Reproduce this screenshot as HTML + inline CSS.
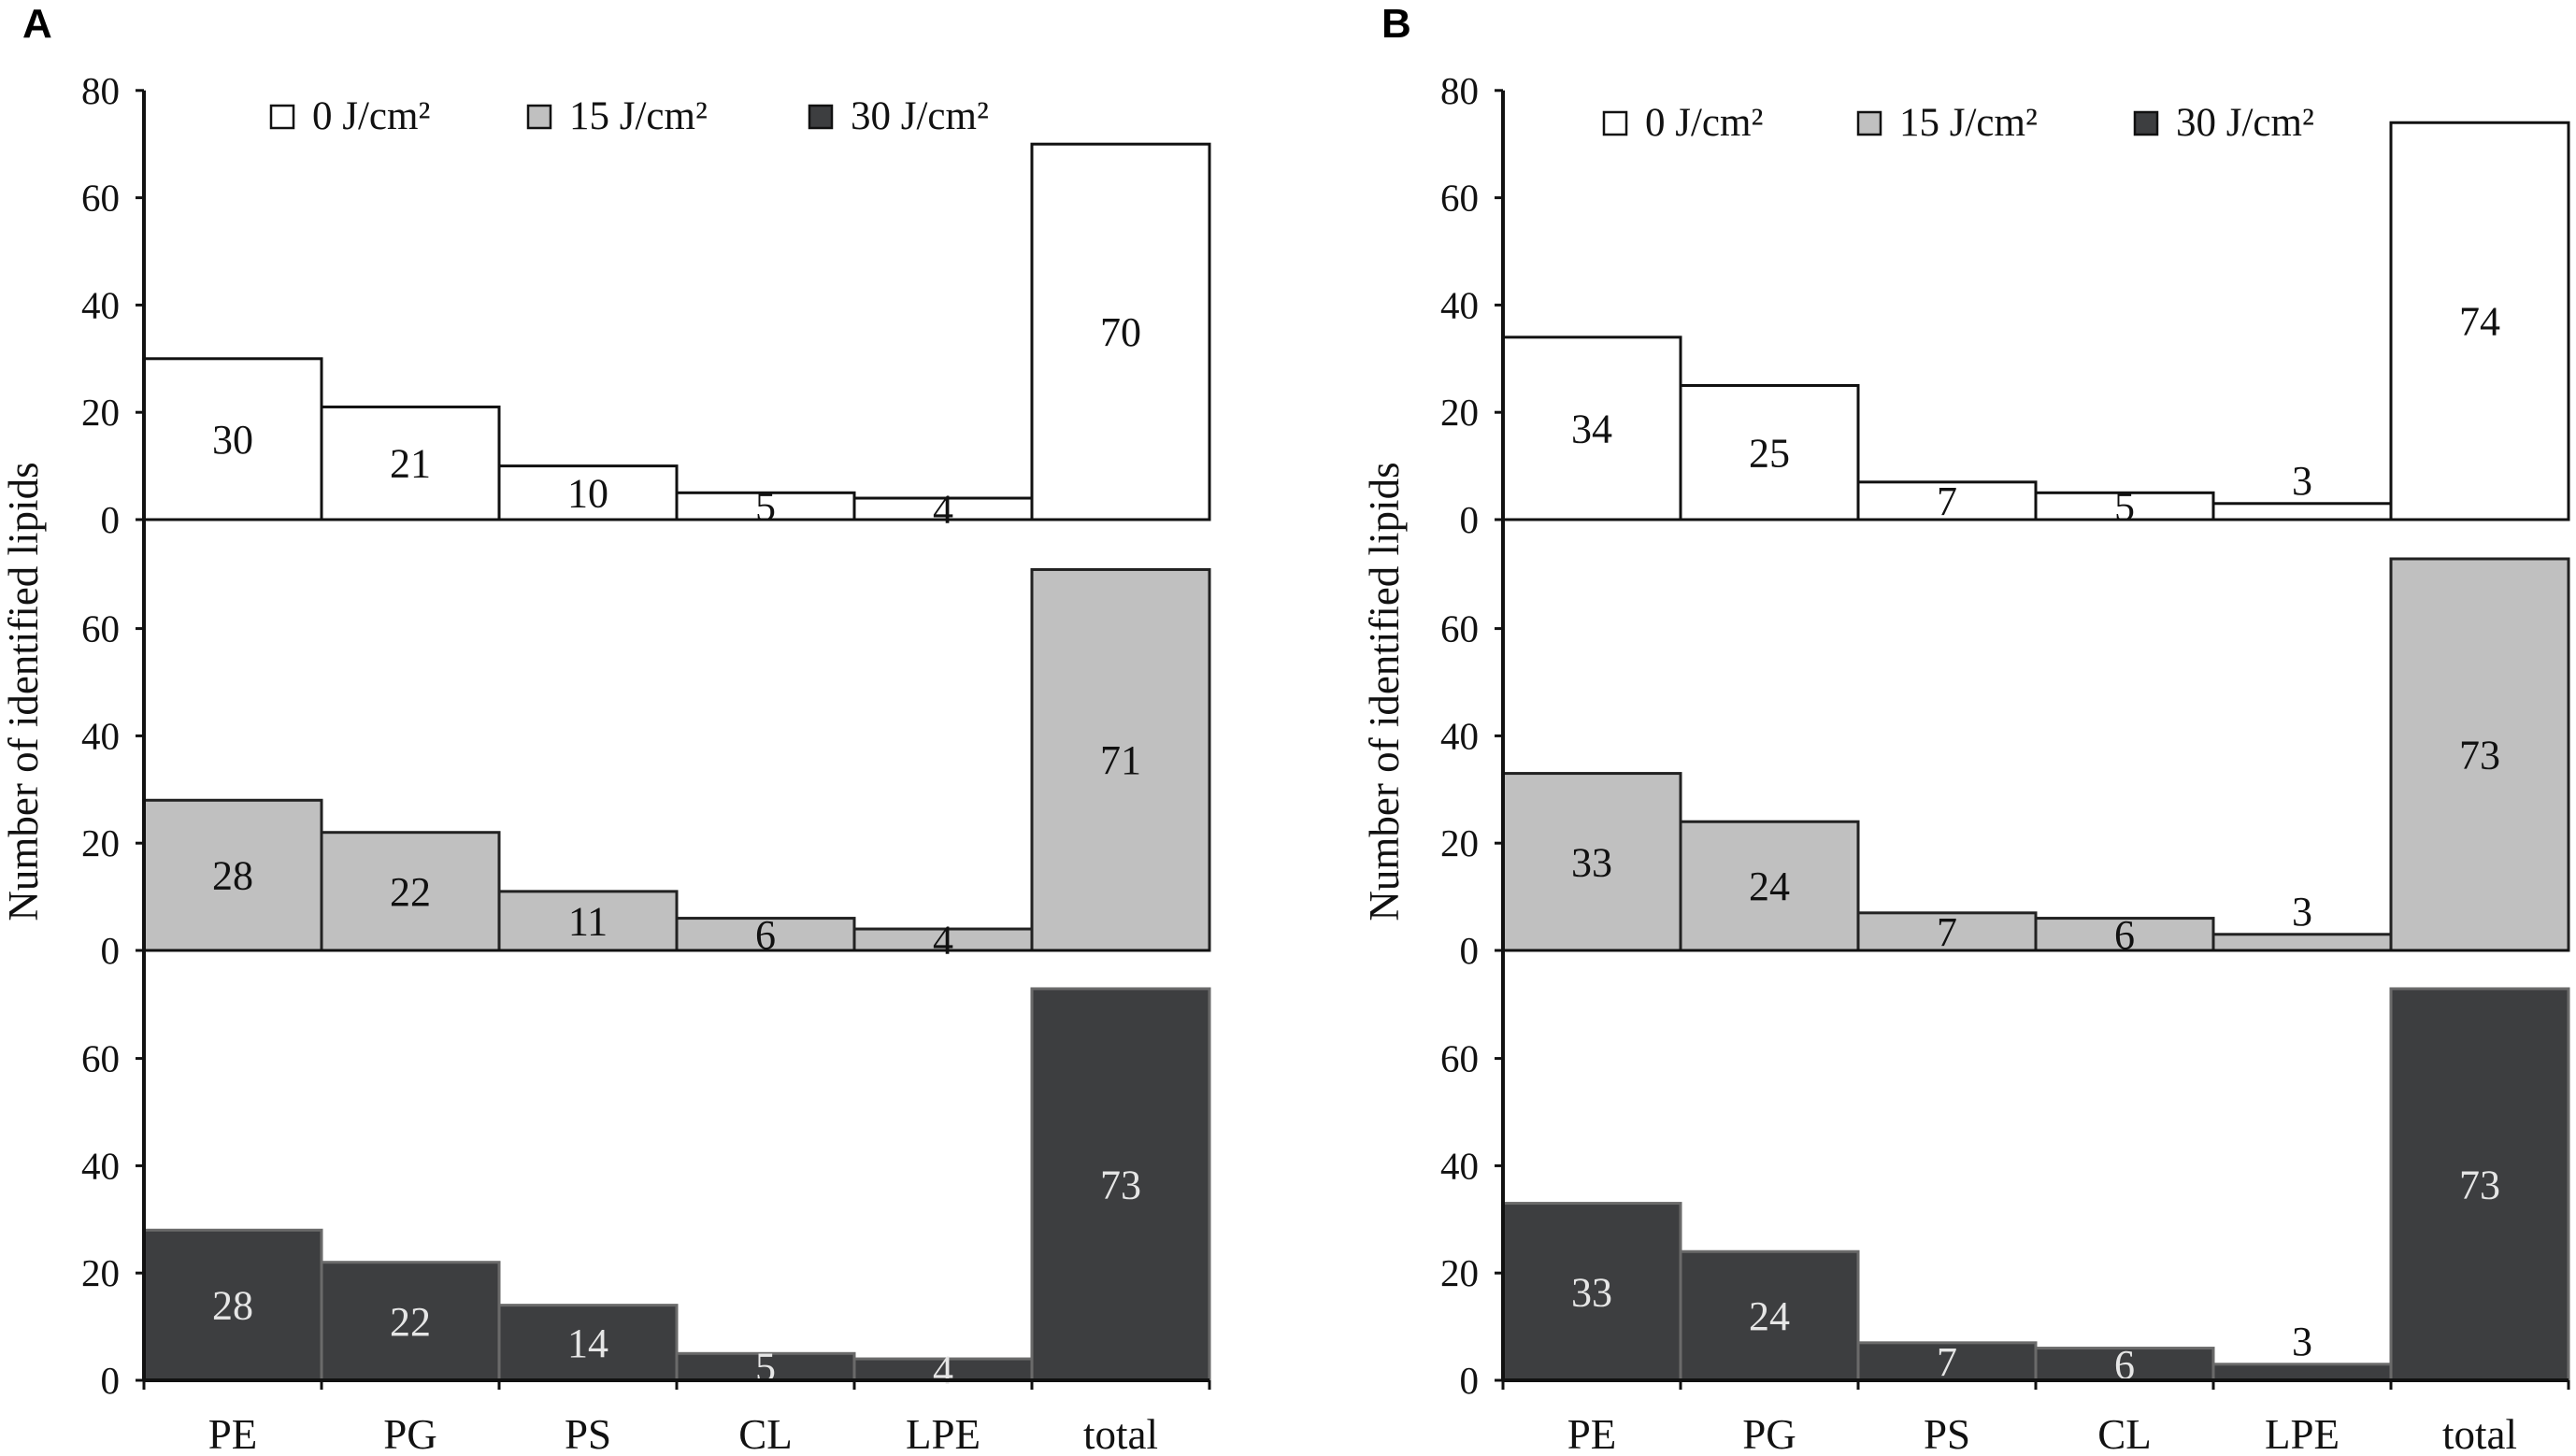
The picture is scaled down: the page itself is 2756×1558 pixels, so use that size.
<!DOCTYPE html>
<html><head><meta charset="utf-8"><style>
html,body{margin:0;padding:0;background:#fff;}
svg{display:block;}
text{font-family:"Liberation Serif",serif;}
</style></head><body>
<svg id="chart" width="2756" height="1558" viewBox="0 0 2756 1558" xmlns="http://www.w3.org/2000/svg"></svg>
<script>
const categories = ["PE","PG","PS","CL","LPE","total"];
const seriesNames = ["0 J/cm²","15 J/cm²","30 J/cm²"];
const yTicks = [0,20,40,60,80];
const panelA0 = [30,21,10,5,4,70];
const panelA15 = [28,22,11,6,4,71];
const panelA30 = [28,22,14,5,4,73];
const panelB0 = [34,25,7,5,3,74];
const panelB15 = [33,24,7,6,3,73];
const panelB30 = [33,24,7,6,3,73];

const NS = "http://www.w3.org/2000/svg";
const svg = document.getElementById("chart");
function mk(tag, attrs, parent){
  const e = document.createElementNS(NS, tag);
  for (const k in attrs) e.setAttribute(k, attrs[k]);
  (parent||svg).appendChild(e);
  return e;
}
const fills = ["#ffffff","#c0c0c0","#3d3e40"];
const strokes = ["#111","#222","#6a6a6a"];
const labelColors = ["#111","#111","#e6e6e6"];
const UNIT = 5.74;
const baselines = [556, 1017, 1477];

function drawPanel(cfg){
  const g = mk("g", {});
  
  
  const ax = cfg.ax, bw = 190;
  const xPos = i => ax + i*bw;
  const yPos = (p, v) => baselines[p] - v*UNIT;
  const lbl = mk("text", {x: cfg.lx, y: 40, "font-size": 44, "font-weight": "bold", style: "font-family:'Liberation Sans',sans-serif"}, g);
  
  
  lbl.textContent = cfg.id.toUpperCase();
  cfg.series.forEach((vals, p) => {
    vals.forEach((v, i) => {
      const r = mk("rect", {x: xPos(i), y: yPos(p, v), width: bw, height: v*UNIT, fill: fills[p], stroke: strokes[p], "stroke-width": 3}, g);
      
      
      const small = v <= 3;
      const ty = small ? yPos(p, v) - 10 : baselines[p] - v*UNIT/2 + 15;
      const t = mk("text", {x: xPos(i)+bw/2, y: ty, "font-size": 44, "text-anchor": "middle", fill: small ? "#111" : labelColors[p]}, g);
      
      
      t.textContent = v;
    });
    yTicks.forEach(tv => {
      if (p > 0 && tv === 80) return;
      const y = yPos(p, tv);
      mk("line", {x1: ax-9, x2: ax, y1: y, y2: y, stroke: "#111", "stroke-width": 3}, g);
      const t = mk("text", {x: ax-26, y: y+14, "font-size": 41, "text-anchor": "end", fill: "#111"}, g);
      
      
      t.textContent = tv;
    });
    mk("line", {x1: ax, x2: ax + 6*bw, y1: baselines[p], y2: baselines[p], stroke: "#111", "stroke-width": 3}, g);
  });
  const ya = mk("line", {x1: ax, x2: ax, y1: yPos(0,80), y2: baselines[2], stroke: "#111", "stroke-width": 4}, g);
  
  
  const xa = mk("line", {x1: ax, x2: ax + 6*bw, y1: baselines[2], y2: baselines[2], stroke: "#111", "stroke-width": 4}, g);
  
  
  for (let i = 0; i <= 6; i++) mk("line", {x1: xPos(i), x2: xPos(i), y1: baselines[2], y2: baselines[2]+10, stroke: "#111", "stroke-width": 3}, g);
  categories.forEach((c, i) => {
    const t = mk("text", {x: xPos(i)+bw/2, y: 1550, "font-size": 45, "text-anchor": "middle", fill: "#111"}, g);
    
    
    t.textContent = c;
  });
  const yt = mk("text", {x: 0, y: 0, "font-size": 45, "text-anchor": "middle", fill: "#111", transform: `translate(${cfg.tx},740) rotate(-90)`}, g);
  
  
  yt.textContent = "Number of identified lipids";
  cfg.legX.forEach((lx, k) => {
    const r = mk("rect", {x: lx, y: cfg.legY-25, width: 24, height: 24, fill: fills[k], stroke: "#111", "stroke-width": 2.5}, g);
    
    
    const t = mk("text", {x: lx+44, y: cfg.legY, "font-size": 43, fill: "#111"}, g);
    
    
    t.textContent = seriesNames[k];
  });
}
drawPanel({id: "a", ax: 154, lx: 24, tx: 40, legY: 138, legX: [290, 565, 866], series: [panelA0, panelA15, panelA30]});
drawPanel({id: "b", ax: 1608, lx: 1478, tx: 1496, legY: 145, legX: [1716, 1988, 2284], series: [panelB0, panelB15, panelB30]});
</script>
</body></html>
